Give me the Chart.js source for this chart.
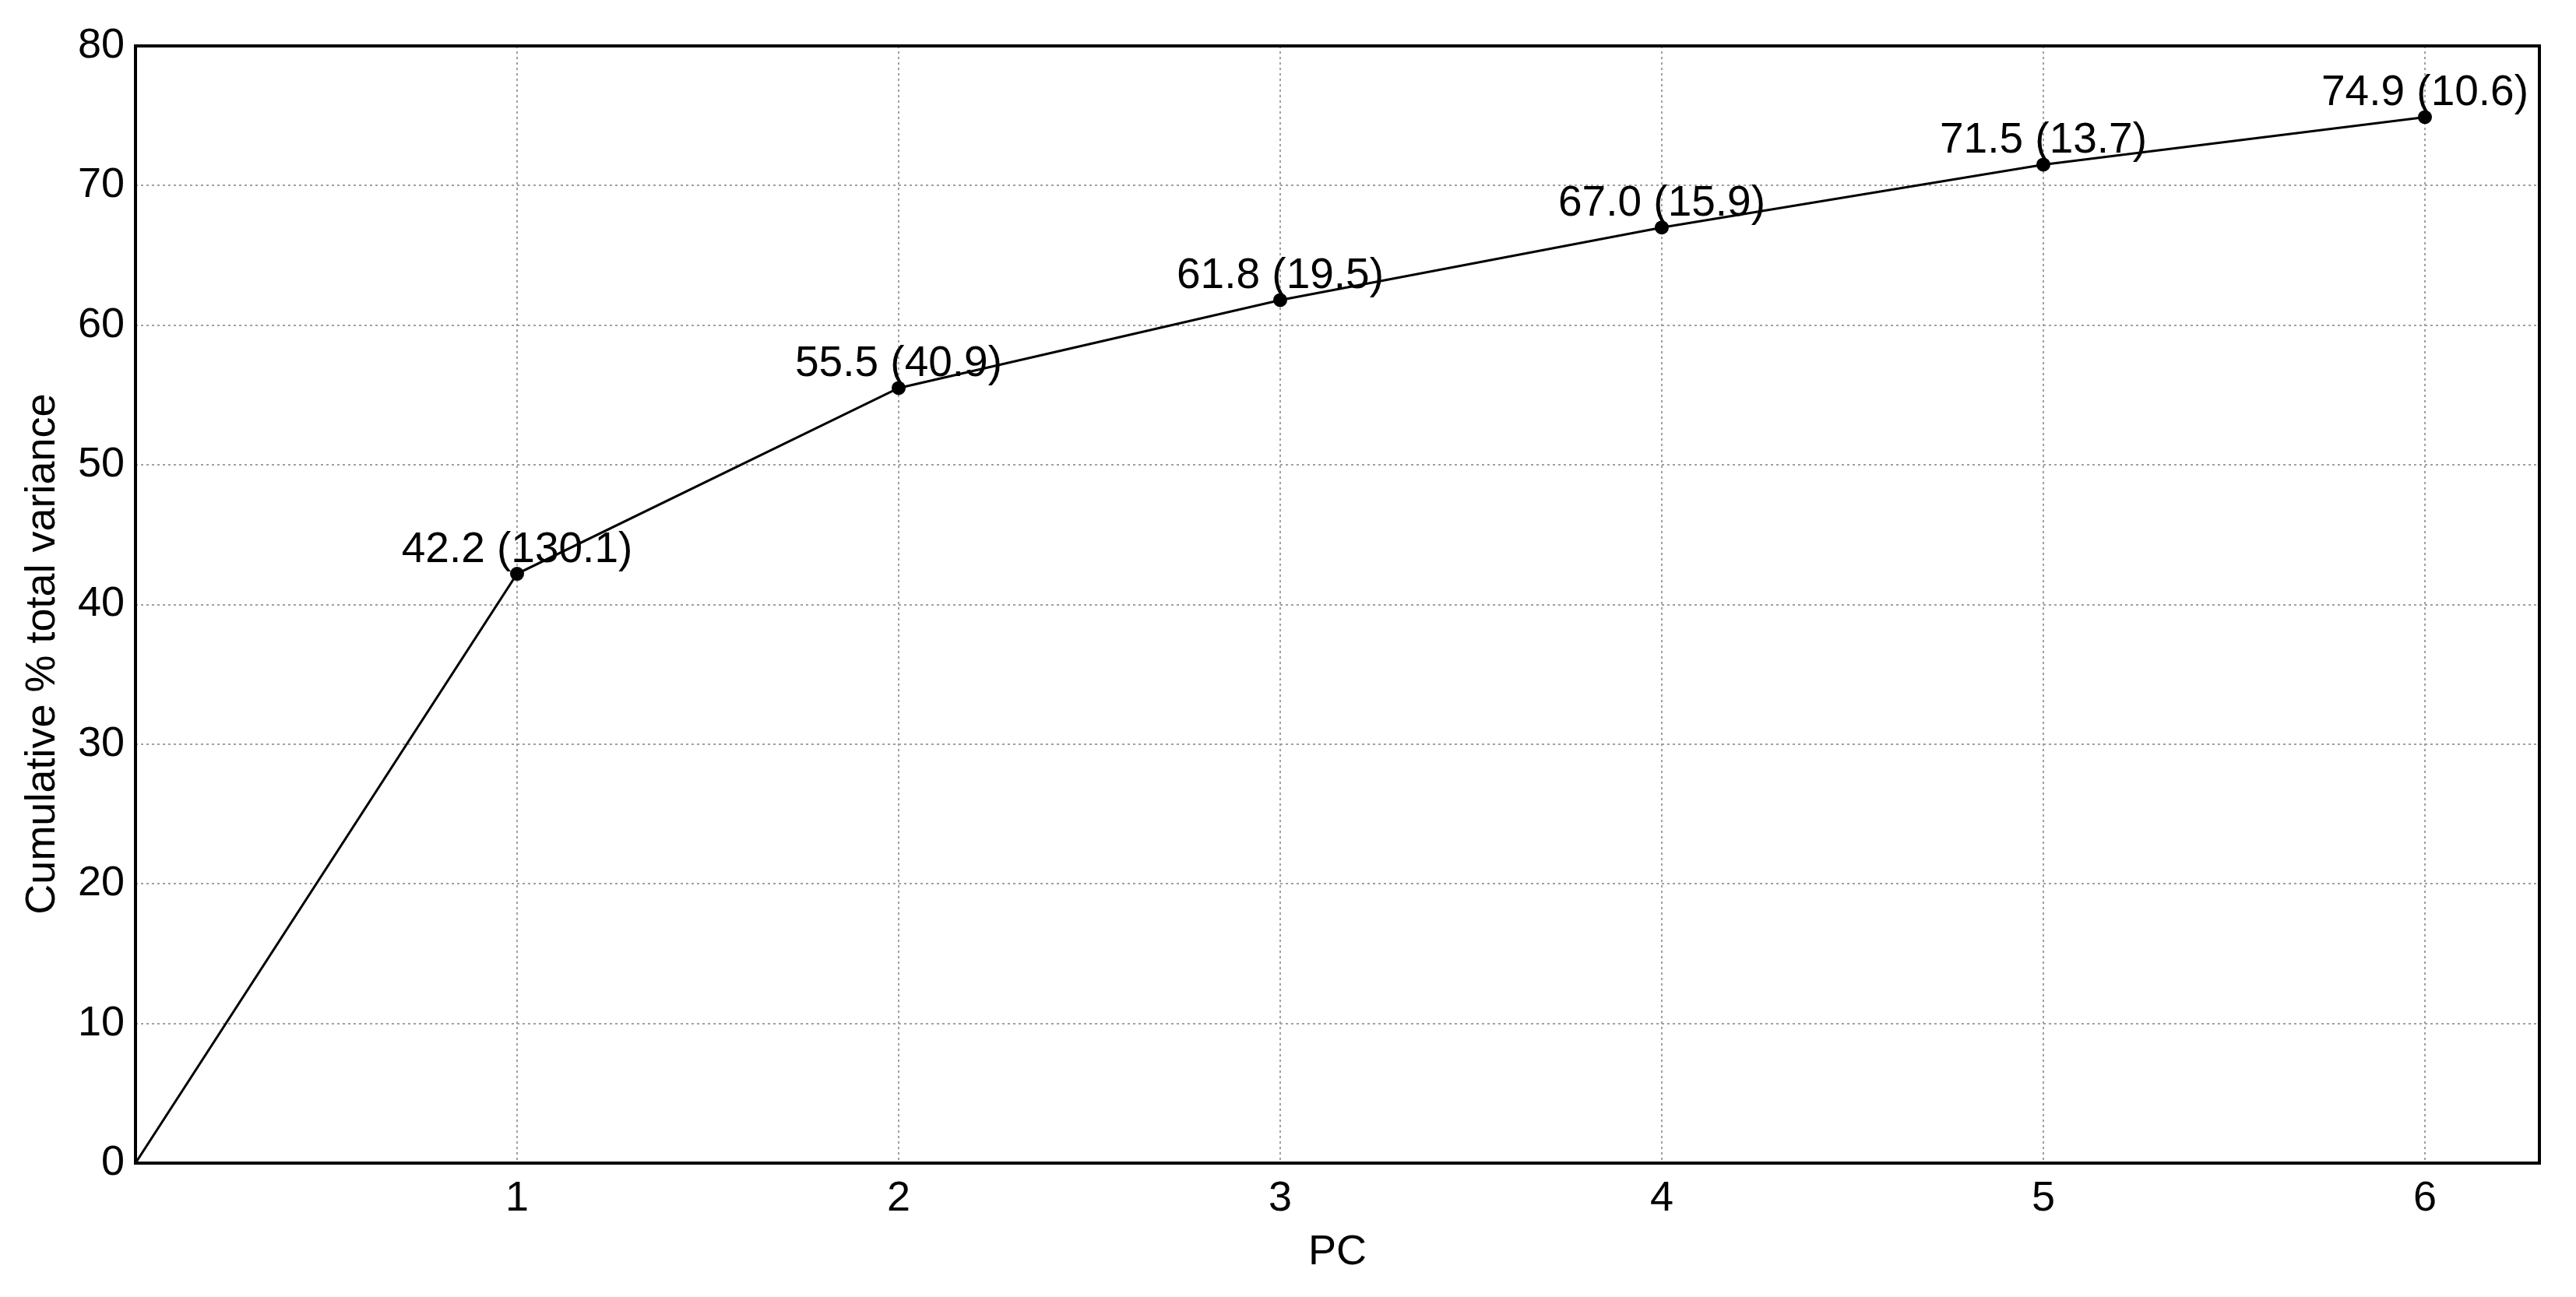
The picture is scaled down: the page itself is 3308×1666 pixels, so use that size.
<!DOCTYPE html>
<html>
<head>
<meta charset="utf-8">
<script src="https://cdn.jsdelivr.net/npm/chart.js@4.4.1/dist/chart.umd.min.js"></script>
<style>
    html, body { margin: 0; padding: 0; background: #fff; }
    #wrap { width: 3308px; height: 1666px; }
</style>
</head>
<body>
<div id="wrap"><canvas id="graph"></canvas></div>
<script>
// Dados
const pcs = [0, 1, 2, 3, 4, 5, 6];
const cumulative = [0, 42.2, 55.5, 61.8, 67.0, 71.5, 74.9];
const eigenvalues = [null, 130.1, 40.9, 19.5, 15.9, 13.7, 10.6];
const yTicks = [0, 10, 20, 30, 40, 50, 60, 70, 80];
const xTicks = [1, 2, 3, 4, 5, 6];
const xTitle = 'PC';
const yTitle = 'Cumulative % total variance';

const fontFamily = '"Liberation Sans", Arial, sans-serif';
const fontSize = 54;

// Rótulos dos pontos
const pointLabels = {
    id: 'pointLabels',
    afterDatasetsDraw(chart) {
        const ctx = chart.ctx;
        const meta = chart.getDatasetMeta(0);
        ctx.save();
        ctx.font = '55px ' + fontFamily;
        ctx.fillStyle = '#000';
        ctx.textAlign = 'center';
        ctx.textBaseline = 'alphabetic';
        meta.data.forEach((pt, i) => {
            if (eigenvalues[i] === null) return;
            const txt = cumulative[i].toFixed(1) + ' (' + eigenvalues[i].toFixed(1) + ')';
            ctx.fillText(txt, pt.x, pt.y - 15);
        });
        ctx.restore();
    }
};

// Moldura e título do eixo Y
const frame = {
    id: 'frame',
    afterDraw(chart) {
        const ctx = chart.ctx;
        const a = chart.chartArea;
        ctx.save();
        ctx.strokeStyle = '#000';
        ctx.lineWidth = 4;
        ctx.strokeRect(a.left, a.top, a.right - a.left, a.bottom - a.top);
        ctx.font = fontSize + 'px ' + fontFamily;
        ctx.fillStyle = '#000';
        ctx.textAlign = 'center';
        ctx.textBaseline = 'middle';
        ctx.translate(55, 840);
        ctx.rotate(-Math.PI / 2);
        ctx.fillText(yTitle, 0, 0);
        ctx.restore();
    }
};

const gridStyle = {
    color: '#a0a0a0',
    lineWidth: 2,
    drawTicks: false
};

new Chart(document.getElementById('graph'), {
    type: 'line',
    data: {
        datasets: [{
            data: pcs.map((x, i) => ({ x: x, y: cumulative[i] })),
            borderColor: '#000',
            borderWidth: 3,
            backgroundColor: '#000',
            pointRadius: pcs.map((x, i) => eigenvalues[i] === null ? 0 : 9),
            pointBorderWidth: 0,
            tension: 0,
            fill: false
        }]
    },
    options: {
        responsive: true,
        maintainAspectRatio: false,
        animation: false,
        layout: {
            padding: { top: 59, right: 47, bottom: 0, left: 0 }
        },
        plugins: {
            legend: { display: false },
            tooltip: { enabled: false }
        },
        scales: {
            x: {
                type: 'linear',
                min: 0,
                max: 6.3,
                afterBuildTicks(scale) {
                    scale.ticks = xTicks.map(v => ({ value: v }));
                },
                afterFit(scale) {
                    scale.height = 172;
                },
                ticks: {
                    color: '#000',
                    padding: 14,
                    font: { family: fontFamily, size: fontSize },
                    maxRotation: 0
                },
                grid: gridStyle,
                border: { display: false, dash: [3, 4] },
                title: {
                    display: true,
                    text: xTitle,
                    color: '#000',
                    font: { family: fontFamily, size: fontSize },
                    padding: { top: 0, bottom: 24 }
                }
            },
            y: {
                min: 0,
                max: 80,
                afterBuildTicks(scale) {
                    scale.ticks = yTicks.map(v => ({ value: v }));
                },
                afterFit(scale) {
                    scale.width = 174;
                },
                ticks: {
                    color: '#000',
                    padding: 14,
                    font: { family: fontFamily, size: fontSize }
                },
                grid: gridStyle,
                border: { display: false, dash: [3, 4] }
            }
        }
    },
    plugins: [pointLabels, frame]
});
</script>
</body>
</html>
